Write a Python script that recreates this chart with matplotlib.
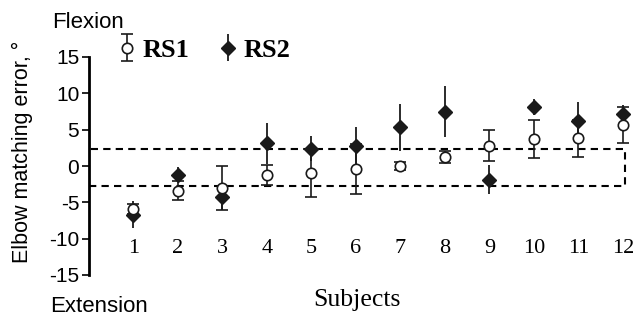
import numpy as np
import matplotlib.pyplot as plt
from matplotlib.patches import Rectangle

# data
subjects = np.arange(1, 13)
rs1_mean = [-5.9, -3.4, -3.0, -1.2, -0.9, -0.4, 0.0, 1.2, 2.8, 3.7, 3.8, 5.6]
rs1_err = [0.7, 1.3, 3.0, 1.4, 3.3, 3.4, 0.6, 0.8, 2.1, 2.6, 2.5, 2.5]
rs2_mean = [-6.7, -1.2, -4.2, 3.1, 2.4, 2.7, 5.3, 7.5, -1.9, 8.1, 6.2, 7.2]
rs2_err = [1.9, 1.0, 1.9, 2.8, 1.7, 2.6, 3.3, 3.5, 2.0, 1.1, 2.6, 1.2]
band_low, band_high = -2.7, 2.4
yticks = [15, 10, 5, 0, -5, -10, -15]

fig = plt.figure(figsize=(6.34, 3.2), dpi=100)
ax = fig.add_axes([89/634, 45/320, 1 - 89/634, (275 - 57)/320])

# dashed band
ax.add_patch(Rectangle((0, band_low), 12.05, band_high - band_low, fill=False,
                       linestyle=(0, (3.5, 2.5)), linewidth=1.5, edgecolor='black', zorder=1))

h2 = ax.errorbar(subjects, rs2_mean, yerr=rs2_err, fmt='D', color='#1a1a1a', ecolor='#1a1a1a',
                 markersize=7, elinewidth=1.3, capsize=0, zorder=3, label='RS2')
h1 = ax.errorbar(subjects, rs1_mean, yerr=rs1_err, fmt='o', mfc='white', mec='#1a1a1a',
                 mew=1.2, markersize=7.5, ecolor='#1a1a1a', elinewidth=1.2, capsize=4,
                 capthick=1.3, zorder=4, label='RS1')

ax.set_xlim(0, 12.25)
ax.set_ylim(-15, 15)
ax.set_yticks(yticks)
ax.set_yticklabels([str(v) for v in yticks], fontsize=15, family='Liberation Sans')
ax.tick_params(axis='y', direction='out', length=5, width=1.2, pad=2)
ax.set_xticks([])
for s in ['top', 'right', 'bottom']:
    ax.spines[s].set_visible(False)
ax.spines['left'].set_linewidth(2)
ax.patch.set_alpha(0)

# subject numbers sit inside the plotting area
for s in subjects:
    ax.text(s, -11.3, str(s), ha='center', va='center', fontsize=16, family='Liberation Serif')

fig.text(357/634, 1 - 300/320, 'Subjects', ha='center', va='center', fontsize=18.5, family='Liberation Serif')
fig.text(52/634, 1 - 22/320, 'Flexion', ha='left', va='center', fontsize=16, family='Liberation Sans')
fig.text(50/634, 1 - 307/320, 'Extension', ha='left', va='center', fontsize=16, family='Liberation Sans')
fig.text(22/634, 1 - 152/320, 'Elbow matching error, °', rotation=90, ha='center', va='center',
         fontsize=15.5, family='Liberation Sans')

leg = fig.legend([h1, h2], ['RS1', 'RS2'], ncol=2, loc='center left',
                 bbox_to_anchor=(94/634, 1 - 50/320), frameon=False, handlelength=0.7,
                 handletextpad=0.25, columnspacing=1.1,
                 prop={'family': 'Liberation Serif', 'weight': 'bold', 'size': 19})

fig.savefig('out.png', dpi=100)
